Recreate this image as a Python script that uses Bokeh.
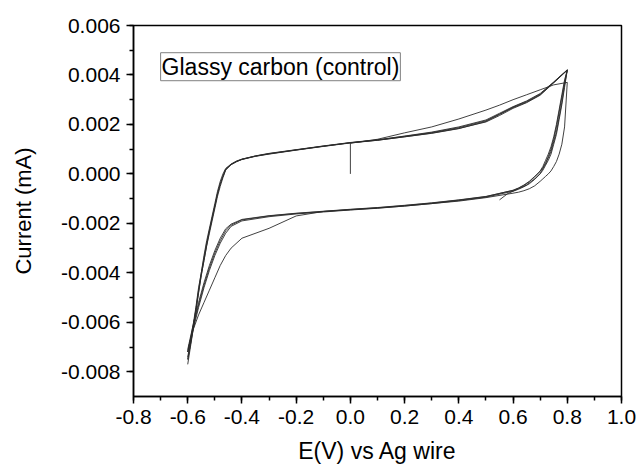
from bokeh.plotting import figure
from bokeh.models import SingleIntervalTicker, PrintfTickFormatter, Label
from bokeh.embed import file_html
from bokeh.resources import INLINE

# Potential grids (V vs Ag wire) for the anodic and cathodic sweeps
fwd_E = [-0.6, -0.59, -0.58, -0.57, -0.56, -0.55, -0.54, -0.53, -0.52, -0.51,
         -0.5, -0.49, -0.48, -0.47, -0.46, -0.44, -0.42, -0.4, -0.35, -0.3,
         -0.2, -0.1, 0.0, 0.1, 0.2, 0.3, 0.4, 0.5, 0.55, 0.6,
         0.65, 0.7, 0.75, 0.8]
rev_E = [0.8, 0.79, 0.78, 0.77, 0.76, 0.75, 0.74, 0.73, 0.72, 0.71,
         0.7, 0.68, 0.66, 0.64, 0.62, 0.6, 0.5, 0.4, 0.3, 0.2,
         0.1, 0.0, -0.1, -0.2, -0.3, -0.4, -0.44, -0.46, -0.48, -0.5,
         -0.52, -0.54, -0.56, -0.58, -0.59, -0.6]

# Cycle 1: starts at open circuit (0 V) and sweeps positive
start_E = [0.0, 0.0, 0.1, 0.2, 0.3, 0.4, 0.5, 0.55, 0.6, 0.65, 0.7, 0.75, 0.8]
start_I = [0.0, 0.00124, 0.0014, 0.00166, 0.0019, 0.00222, 0.00258, 0.00278,
           0.003, 0.0032, 0.0034, 0.0036, 0.0037]
rev_I1 = [0.0037, 0.0019, 0.0012, 0.0008, 0.0005, 0.0003, 0.00012, 0.0, -0.0001, -0.0002,
          -0.0003, -0.00048, -0.0006, -0.00068, -0.00074, -0.00078, -0.00096, -0.0011, -0.0012, -0.0013,
          -0.00138, -0.00145, -0.00152, -0.0017, -0.0022, -0.0026, -0.0030, -0.0033, -0.0037, -0.0042,
          -0.0047, -0.0052, -0.0057, -0.0063, -0.0067, -0.0072]

# Cycles 2-5, anodic sweeps (mA)
fwd_I2 = [-0.0072, -0.0067, -0.0061, -0.0054, -0.0046, -0.0040, -0.0034, -0.0028, -0.0023, -0.0018,
          -0.0013, -0.0008, -0.0004, -0.0001, 0.00018, 0.00038, 0.0005, 0.00058, 0.00071, 0.0008,
          0.00096, 0.00111, 0.00125, 0.00136, 0.0015, 0.00164, 0.00183, 0.00212, 0.0024, 0.00268,
          0.0029, 0.0032, 0.0037, 0.0042]
fwd_I3 = [-0.0077, -0.0070, -0.0063, -0.0056, -0.0048, -0.0041, -0.0035, -0.0029, -0.0024, -0.0019,
          -0.0014, -0.0009, -0.0005, -0.00015, 0.00015, 0.00037, 0.00049, 0.00059, 0.00073, 0.00083,
          0.00098, 0.00113, 0.00127, 0.00138, 0.00153, 0.00169, 0.0019, 0.00218, 0.00245, 0.00272,
          0.00295, 0.00325, 0.00372, 0.00421]
fwd_I4 = [-0.0075, -0.0069, -0.0062, -0.0055, -0.0047, -0.0040, -0.0033, -0.0027, -0.0022, -0.0017,
          -0.0012, -0.0007, -0.0003, 0.0, 0.00022, 0.0004, 0.00052, 0.0006, 0.00072, 0.00081,
          0.00097, 0.00112, 0.00126, 0.00137, 0.00152, 0.00167, 0.00187, 0.00215, 0.00242, 0.0027,
          0.00293, 0.00322, 0.0037, 0.0042]
fwd_I5 = [-0.0074, -0.0068, -0.0062, -0.0055, -0.0048, -0.0041, -0.0035, -0.0029, -0.0023, -0.0018,
          -0.0013, -0.0008, -0.0004, -0.0001, 0.0002, 0.00039, 0.00051, 0.00059, 0.00072, 0.00082,
          0.00097, 0.00112, 0.00126, 0.00136, 0.0015, 0.00165, 0.00184, 0.0021, 0.00236, 0.00265,
          0.00288, 0.00318, 0.00368, 0.00419]

# Cycles 2-4, cathodic sweeps (mA)
rev_I2 = [0.0042, 0.0037, 0.0031, 0.0025, 0.0019, 0.0014, 0.0010, 0.0007, 0.00045, 0.00025,
          0.0001, -0.0001, -0.0003, -0.00045, -0.00057, -0.00066, -0.00092, -0.00106, -0.00118, -0.00128,
          -0.00137, -0.00144, -0.00152, -0.0016, -0.0017, -0.00186, -0.00207, -0.0023, -0.0027, -0.0032,
          -0.0038, -0.0045, -0.0053, -0.0062, -0.0067, -0.0072]
rev_I3 = [0.0042, 0.0035, 0.0028, 0.0022, 0.0016, 0.0012, 0.0008, 0.00055, 0.00035, 0.00015,
          0.0, -0.00022, -0.0004, -0.00052, -0.00062, -0.0007, -0.00094, -0.00108, -0.0012, -0.0013,
          -0.00139, -0.00146, -0.00154, -0.00162, -0.00173, -0.0019, -0.00212, -0.0024, -0.0028, -0.0033,
          -0.0039, -0.0046, -0.0054, -0.0063, -0.0069, -0.0075]
rev_I4 = [0.0042, 0.0038, 0.0032, 0.0026, 0.0020, 0.0015, 0.0011, 0.0008, 0.00055, 0.0003,
          0.00012, -0.00012, -0.00032, -0.00047, -0.00058, -0.00067, -0.00091, -0.00105, -0.00117, -0.00127,
          -0.00136, -0.00143, -0.00151, -0.00159, -0.00169, -0.00184, -0.00203, -0.00222, -0.0026, -0.0031,
          -0.0037, -0.0044, -0.0052, -0.0061, -0.0066, -0.0071]

# Final cathodic sweep, stopped at 0.55 V
end_E = [0.8, 0.79, 0.78, 0.77, 0.76, 0.75, 0.74, 0.72, 0.7, 0.68, 0.65, 0.62, 0.6, 0.58, 0.55]
end_I = [0.0042, 0.0036, 0.0029, 0.0023, 0.0017, 0.0013, 0.0009, 0.0004, 0.00002, -0.0002,
         -0.00045, -0.0006, -0.0007, -0.0008, -0.00105]

cycles = [
    (start_E + rev_E, start_I + rev_I1),
    (fwd_E + rev_E, fwd_I2 + rev_I2),
    (fwd_E + rev_E, fwd_I3 + rev_I3),
    (fwd_E + rev_E, fwd_I4 + rev_I4),
    (fwd_E + end_E, fwd_I5 + end_I),
]

FONT = "Liberation Sans"

p = figure(width=639, height=468, x_range=(-0.8, 1.0), y_range=(-0.009, 0.006),
           output_backend="svg", toolbar_location=None,
           min_border_left=133, min_border_right=18, min_border_top=25, min_border_bottom=72)
p.background_fill_color = "white"
p.border_fill_color = "white"
p.grid.visible = False
p.outline_line_color = "black"
p.outline_line_width = 1.5

for E, I in cycles:
    p.line(E, I, line_color="#2b2b2b", line_width=0.9)

p.xaxis.ticker = SingleIntervalTicker(interval=0.2, num_minor_ticks=2)
p.yaxis.ticker = SingleIntervalTicker(interval=0.002, num_minor_ticks=2)
p.xaxis.formatter = PrintfTickFormatter(format="%.1f")
p.yaxis.formatter = PrintfTickFormatter(format="%.3f")

p.xaxis.axis_label = "E(V) vs Ag wire"
p.yaxis.axis_label = "Current (mA)"

for ax in (p.xaxis[0], p.yaxis[0]):
    ax.axis_line_width = 1.5
    ax.axis_line_color = "black"
    ax.major_tick_line_width = 1.5
    ax.major_tick_line_color = "black"
    ax.minor_tick_line_width = 1.5
    ax.minor_tick_line_color = "black"
    ax.major_tick_in = 0
    ax.major_tick_out = 7
    ax.minor_tick_in = 0
    ax.minor_tick_out = 4
    ax.major_label_text_font = FONT
    ax.major_label_text_font_size = "21px"
    ax.major_label_text_color = "black"
    ax.axis_label_text_font = FONT
    ax.axis_label_text_font_style = "normal"
    ax.axis_label_text_color = "black"

p.xaxis.axis_label_text_font_size = "23px"
p.yaxis.axis_label_text_font_size = "22px"
p.xaxis.major_label_standoff = 6
p.yaxis.major_label_standoff = 6
p.xaxis.axis_label_standoff = 11
p.yaxis.axis_label_standoff = 22

p.add_layout(Label(x=-0.70, y=0.0049, text="Glassy carbon (control)",
                   text_font=FONT, text_font_size="23px", text_color="black",
                   text_align="left", text_baseline="top",
                   border_line_color="#808080", border_line_width=1,
                   background_fill_color="white", padding=1))

open("out.html", "w").write(file_html(p, INLINE))
